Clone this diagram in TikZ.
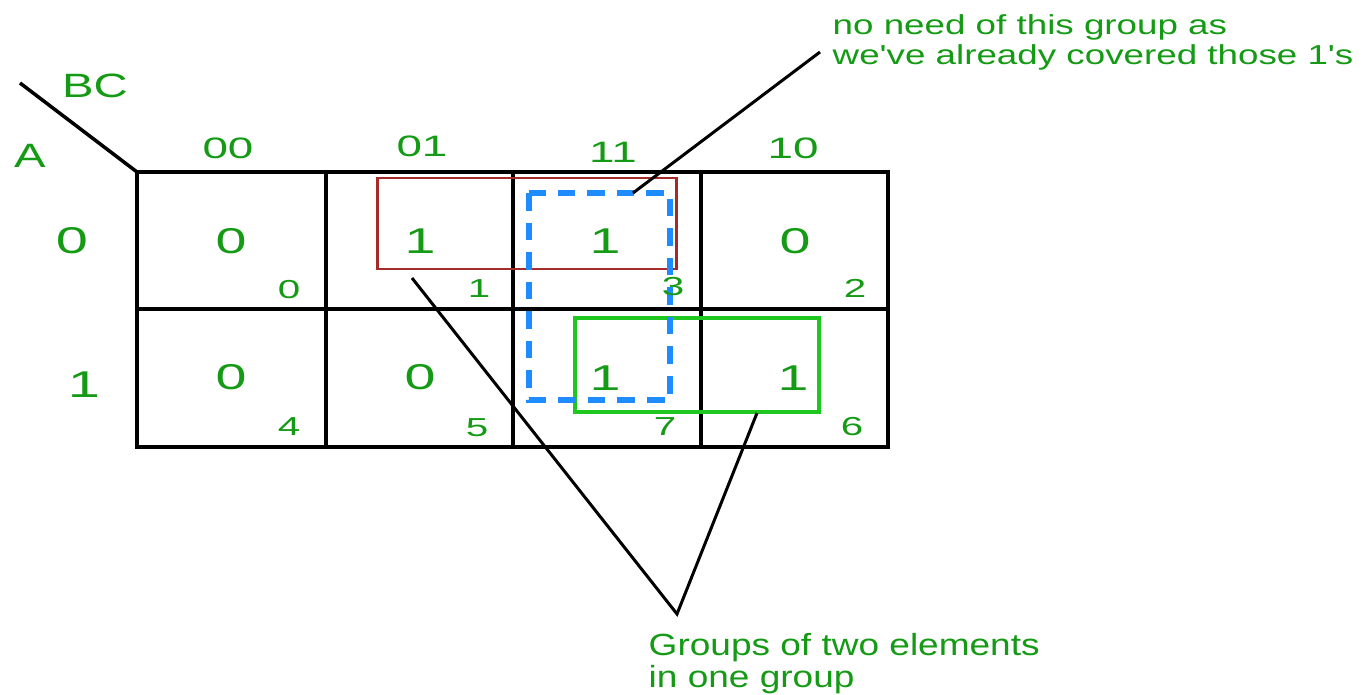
\documentclass[tikz,border=0pt]{standalone}
\usepackage{fontspec}
\setmainfont{Liberation Sans}
\newfontfamily\digitfont[FakeStretch=1.55]{Liberation Sans}
\newfontfamily\labelfont[FakeStretch=1.4]{Liberation Sans}
\newfontfamily\notefont[FakeStretch=1.34,Ligatures=TeXOff]{Liberation Sans}
\newfontfamily\pairfont[FakeStretch=1.21]{Liberation Sans}
\definecolor{kgreen}{HTML}{149A14}
\definecolor{pairred}{HTML}{A52A2A}
\definecolor{quadblue}{HTML}{1E8CFF}
\definecolor{pairgreen}{HTML}{1FC81F}

\begin{document}
\begin{tikzpicture}[
  x=0.01cm, y=-0.01cm,
  mapline/.style={line width=1pt},
  leader/.style={line width=0.85pt},
  varname/.style={text=kgreen, inner sep=0pt, font=\labelfont\fontsize{9.6}{11}\selectfont},
  header/.style={text=kgreen, inner sep=0pt, font=\digitfont\fontsize{8.4}{10}\selectfont},
  rowhead/.style={text=kgreen, inner sep=0pt, font=\digitfont\fontsize{10.6}{12}\selectfont},
  cellval/.style={text=kgreen, inner sep=0pt, font=\digitfont\fontsize{10.2}{12}\selectfont},
  minterm/.style={text=kgreen, inner sep=0pt, font=\digitfont\fontsize{7.4}{8}\selectfont},
  redpair/.style={draw=pairred, line width=0.85pt},
  greenpair/.style={draw=pairgreen, line width=1.4pt},
  bluequad/.style={draw=quadblue, line width=1.7pt, dash pattern=on 5pt off 3.4pt},
  note/.style={text=kgreen, inner sep=0pt, anchor=north west, align=left}
]
  \useasboundingbox (0,0) rectangle (1370,694);

  % corner
  \draw[mapline] (20,83) -- (137,172);
  \node[varname] (bc) at (95,86) {BC};
  \node[varname] (a) at (30,156) {A};

  % column headings
  \node[header] (c00) at (228,148) {00};
  \node[header] (c01) at (422,146) {01};
  \node[header] (c11) at (613,152) {11};
  \node[header] (c10) at (793,148) {10};

  % row headings
  \node[rowhead] (r0) at (72,241) {0};
  \node[rowhead] (r1) at (84,385) {1};

  % map
  \draw[mapline] (137,172) rectangle (888,447);
  \draw[mapline] (137,309) -- (888,309);
  \draw[mapline] (326,172) -- (326,447);
  \draw[mapline] (513,172) -- (513,447);
  \draw[mapline] (701,172) -- (701,447);

  % groups
  \draw[redpair] (377,178) rectangle (676,269);
  \draw[greenpair] (575,318) rectangle (819,412);
  \draw[bluequad] (529,193) rectangle (670,400);

  % cell values
  \node[cellval] (v0) at (231,241) {0};
  \node[cellval] (v1) at (420,241) {1};
  \node[cellval] (v3) at (605,241) {1};
  \node[cellval] (v2) at (795,241) {0};
  \node[cellval] (v4) at (231,377) {0};
  \node[cellval] (v5) at (420,377) {0};
  \node[cellval] (v7) at (605,378) {1};
  \node[cellval] (v6) at (793,378) {1};

  % minterm numbers
  \node[minterm] (m0) at (289,290) {0};
  \node[minterm] (m1) at (479,289) {1};
  \node[minterm] (m3) at (673,287) {3};
  \node[minterm] (m2) at (855,288) {2};
  \node[minterm] (m4) at (289,427) {4};
  \node[minterm] (m5) at (477,428) {5};
  \node[minterm] (m7) at (665,427) {7};
  \node[minterm] (m6) at (852,427) {6};

  % notes
  \node[note, font=\notefont\fontsize{7.8}{8.5}\selectfont] (redundant) at (832,14)
    {no need of this group as\\we've already covered those 1's};
  \node[note, font=\pairfont\fontsize{8.7}{8}\selectfont] (pairs) at (648,633)
    {Groups of two elements\\in one group};

  % leaders
  \coordinate (quadtop) at (633,193);
  \coordinate (notetip) at (820,52);
  \coordinate (redfoot) at (412,278);
  \coordinate (greenfoot) at (757,413);
  \coordinate (joint) at (677,614);
  \draw[leader] (quadtop) -- (notetip);
  \draw[leader] (redfoot) -- (joint) -- (greenfoot);
\end{tikzpicture}
\end{document}
